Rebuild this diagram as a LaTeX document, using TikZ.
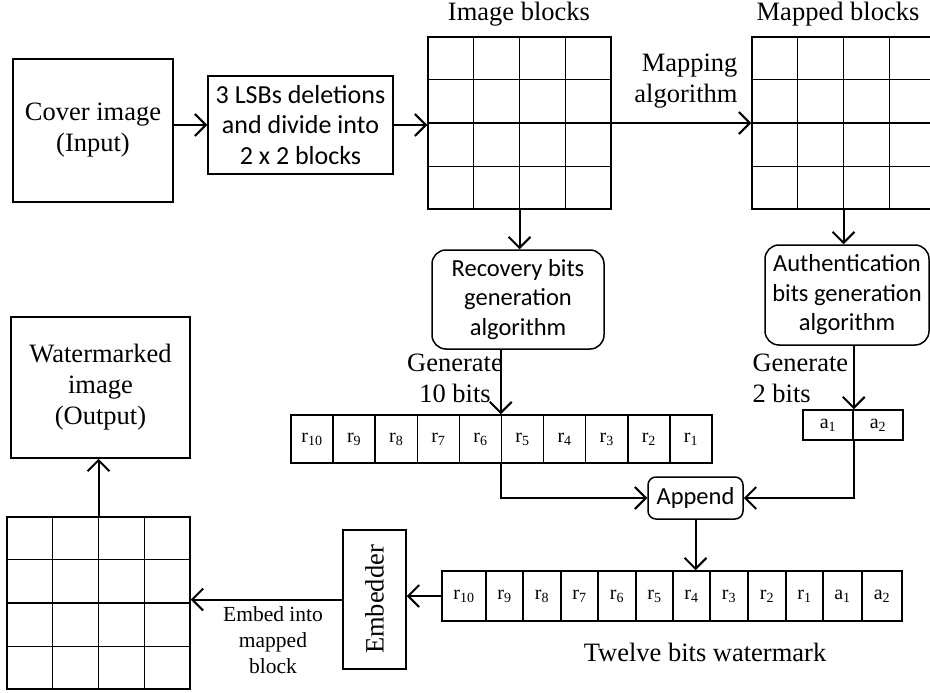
\documentclass[tikz,border=0pt]{standalone}
\usepackage{fontspec}
\setmainfont{Liberation Serif}
\newfontfamily\calib{Carlito}
\usetikzlibrary{arrows.meta,calc}
\tikzset{
  box/.style={draw, line width=1.5pt, inner sep=0pt},
  rbox/.style={box, rounded corners=14pt},
  arr/.style={line width=2pt, -{Straight Barb[length=11pt,width=22pt,line width=2pt]}},
  ln/.style={line width=2pt},
  gridln/.style={line width=1.5pt},
  serif/.style={font=\fontsize{26.5}{31}\selectfont},
  sans/.style={font=\calib\fontsize{24.5}{29.5}\selectfont},
  cell/.style={draw, line width=1.5pt, inner sep=0pt, font=\fontsize{20}{22}\selectfont},
}
\begin{document}
\begin{tikzpicture}[x=1pt,y=-1pt]
\useasboundingbox (0,0) rectangle (930,693);
% main boxes
\node[box, minimum width=160pt, minimum height=143pt, serif, align=center] (cover) at (93,130.5) {Cover image\\(Input)};
\node[box, minimum width=185pt, minimum height=98pt, font=\calib\fontsize{26}{30.5}\selectfont, align=center] (lsb) at (300.5,125) {3 LSBs deletions\\and divide into\\2 x 2 blocks};
\node[box, minimum width=183pt, minimum height=172pt] (ib) at (519.5,123) {};
\node[box, minimum width=183pt, minimum height=172pt] (mb) at (843.5,123) {};
\node[rbox, minimum width=172pt, minimum height=99pt, sans, align=center] (rec) at (518,299.5) {Recovery bits\\generation\\algorithm};
\node[rbox, minimum width=164pt, minimum height=100pt, sans, align=center] (auth) at (847,295) {Authentication\\bits generation\\algorithm};
\node[box, minimum width=179pt, minimum height=141pt, serif, align=center] (wm) at (100.5,387.5) {Watermarked\\image\\(Output)};
\node[box, minimum width=183pt, minimum height=172pt] (og) at (98.5,603) {};
\node[box, minimum width=63pt, minimum height=139pt] (emb) at (374.5,599.5) {};
\node[serif, rotate=90] (embt) at (emb.center) {Embedder};
\node[box, rounded corners=8pt, minimum width=95pt, minimum height=42pt, sans] (app) at (695.5,498) {Append};
% grid lines
\foreach \n in {ib,mb,og}{
  \foreach \k in {1,2,3}{
    \draw[gridln] ($(\n.north west)!\k/4!(\n.north east)$) -- ($(\n.south west)!\k/4!(\n.south east)$);
    \draw[gridln] ($(\n.north west)!\k/4!(\n.south west)$) -- ($(\n.north east)!\k/4!(\n.south east)$);
  }
}
% r array
\foreach \i in {1,...,10}{
  \pgfmathsetmacro{\cx}{291+42.1*(10-\i)+21.05}
  \node[cell, minimum width=42.1pt, minimum height=48pt] (r\i) at (\cx,439) {r\textsubscript{\i}};
}
% a array
\node[cell, minimum width=50pt, minimum height=30pt] (a1) at (828,425) {a\textsubscript{1}};
\node[cell, minimum width=50pt, minimum height=30pt] (a2) at (878,425) {a\textsubscript{2}};
% twelve-bit array
\foreach \l/\r/\t [count=\i] in {442/486/r\textsubscript{10}, 486/523/r\textsubscript{9}, 523/561/r\textsubscript{8}, 561/598/r\textsubscript{7}, 598/636/r\textsubscript{6}, 636/673/r\textsubscript{5}, 673/710/r\textsubscript{4}, 710/748/r\textsubscript{3}, 748/786/r\textsubscript{2}, 786/823/r\textsubscript{1}, 823/862/a\textsubscript{1}, 862/902/a\textsubscript{2}}{
  \pgfmathsetmacro{\cx}{(\l+\r)/2}
  \pgfmathsetmacro{\cw}{\r-\l}
  \node[cell, minimum width=\cw pt, minimum height=50pt] (w\i) at (\cx,596) {\t};
}
% labels
\node[serif] (libl) at (519,14) {Image blocks};
\node[serif] (lmbl) at (838,14) {Mapped blocks};
\node[serif, align=right, anchor=east] (lmap) at (741,81) {Mapping\\algorithm};
\node[serif, align=center] (lg10) at (455,378) {Generate\\10 bits};
\node[serif, align=left, anchor=west] (lg2) at (749,378) {Generate\\2 bits};
\node[font=\fontsize{21.5}{26}\selectfont, align=center] (lemb) at (273,640) {Embed into\\mapped\\block};
\node[serif] (ltw) at (705,652) {Twelve bits watermark};
% connectors
\draw[arr] (cover.east |- lsb.west) -- (lsb.west);
\draw[arr] (lsb.east) -- (lsb.east -| ib.west);
\draw[arr] (ib.east) -- (mb.west);
\draw[arr] (ib.south) -- (ib.south |- rec.north);
\draw[arr] (mb.south) -- (mb.south |- auth.north);
\draw[arr] (r5.north west |- rec.south) -- (r5.north west);
\draw[arr] (a1.north east |- auth.south) -- (a1.north east);
\draw[arr] (r5.south west) |- (app.west);
\draw[arr] (a1.south east) |- (app.east);
\draw[arr] (app.south) -- (app.south |- w1.north);
\draw[arr] (w1.west) -- (w1.west -| emb.east);
\draw[arr] (emb.west) -- (emb.west -| og.east);
\draw[arr] (og.north) -- (og.north |- wm.south);
\end{tikzpicture}
\end{document}
